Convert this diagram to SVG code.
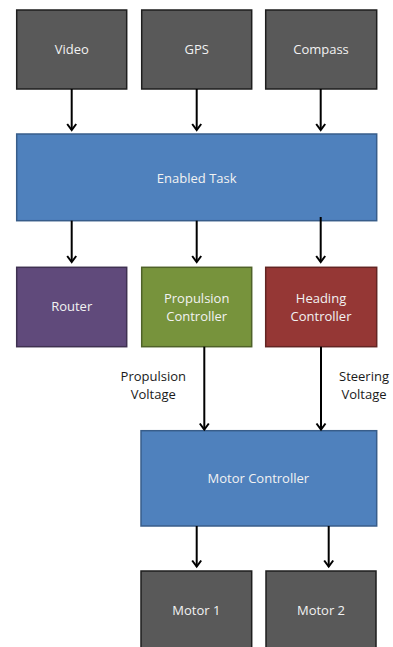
<svg xmlns="http://www.w3.org/2000/svg" width="393" height="647" viewBox="0 0 393 647">
<defs>
<marker id="ah" markerWidth="12" markerHeight="12" refX="10" refY="6" orient="auto" markerUnits="userSpaceOnUse" viewBox="0 0 12 12">
<path d="M4,1.5 L10,6 L4,10.5" fill="none" stroke="#000" stroke-width="2"/>
</marker>
<style>
.box{stroke-width:1.5}
.gray{fill:#595959;stroke:#1e1e1e}
.blue{fill:#4F81BD;stroke:#385D8A}
.purple{fill:#604A7B;stroke:#3F3151}
.green{fill:#77933C;stroke:#4F6228}
.red{fill:#953735;stroke:#632523}
.t{font-family:"Open Sans","Liberation Sans",sans-serif;font-size:13px;fill:#F2F2F2;text-anchor:middle}
.l{font-family:"Open Sans","Liberation Sans",sans-serif;font-size:13px;fill:#1a1a1a;text-anchor:middle}
.c{stroke:#000;stroke-width:2;fill:none}
</style>
</defs>
<rect width="393" height="647" fill="#fff"/>
<g id="video"><rect class="box gray" x="16.7" y="10" width="110" height="79"/><text class="t" x="71.7" y="54">Video</text></g>
<g id="gps"><rect class="box gray" x="141.7" y="10" width="110" height="79"/><text class="t" x="196.7" y="54">GPS</text></g>
<g id="compass"><rect class="box gray" x="265.7" y="10" width="111" height="79"/><text class="t" x="321" y="54">Compass</text></g>
<g id="enabled"><rect class="box blue" x="16.7" y="134" width="360" height="86.7"/><text class="t" x="196.7" y="182.5">Enabled Task</text></g>
<g id="router"><rect class="box purple" x="16.7" y="267.3" width="110" height="79.4"/><text class="t" x="71.7" y="311">Router</text></g>
<g id="propulsion"><rect class="box green" x="141.7" y="267.3" width="110" height="79.4"/><text class="t" x="196.7" y="302.5">Propulsion</text><text class="t" x="196.7" y="321">Controller</text></g>
<g id="heading"><rect class="box red" x="265.7" y="267.3" width="111" height="79.4"/><text class="t" x="321" y="302.5">Heading</text><text class="t" x="321" y="321">Controller</text></g>
<g id="motorctl"><rect class="box blue" x="141" y="430.7" width="235.7" height="95.3"/><text class="t" x="258.3" y="483">Motor Controller</text></g>
<g id="motor1"><rect class="box gray" x="141" y="571" width="110.7" height="90"/><text class="t" x="196.4" y="615">Motor 1</text></g>
<g id="motor2"><rect class="box gray" x="266" y="571" width="110" height="90"/><text class="t" x="321" y="615">Motor 2</text></g>
<g id="connectors">
<line class="c" x1="71.7" y1="89" x2="71.7" y2="130" marker-end="url(#ah)"/>
<line class="c" x1="196.7" y1="89" x2="196.7" y2="130" marker-end="url(#ah)"/>
<line class="c" x1="320.7" y1="89" x2="320.7" y2="130" marker-end="url(#ah)"/>
<line class="c" x1="71.7" y1="220.7" x2="71.7" y2="262" marker-end="url(#ah)"/>
<line class="c" x1="196.7" y1="220.7" x2="196.7" y2="262" marker-end="url(#ah)"/>
<line class="c" x1="320.7" y1="217" x2="320.7" y2="262" marker-end="url(#ah)"/>
<line class="c" x1="204.3" y1="346.7" x2="204.3" y2="429.5" marker-end="url(#ah)"/>
<line class="c" x1="321" y1="346.7" x2="321" y2="429.5" marker-end="url(#ah)"/>
<line class="c" x1="196.7" y1="526" x2="196.7" y2="566.5" marker-end="url(#ah)"/>
<line class="c" x1="328.7" y1="526" x2="328.7" y2="566.5" marker-end="url(#ah)"/>
</g>
<g id="labels">
<text class="l" x="153.3" y="380.5">Propulsion</text><text class="l" x="153.3" y="398.5">Voltage</text>
<text class="l" x="364" y="380.5">Steering</text><text class="l" x="364" y="398.5">Voltage</text>
</g>
</svg>
